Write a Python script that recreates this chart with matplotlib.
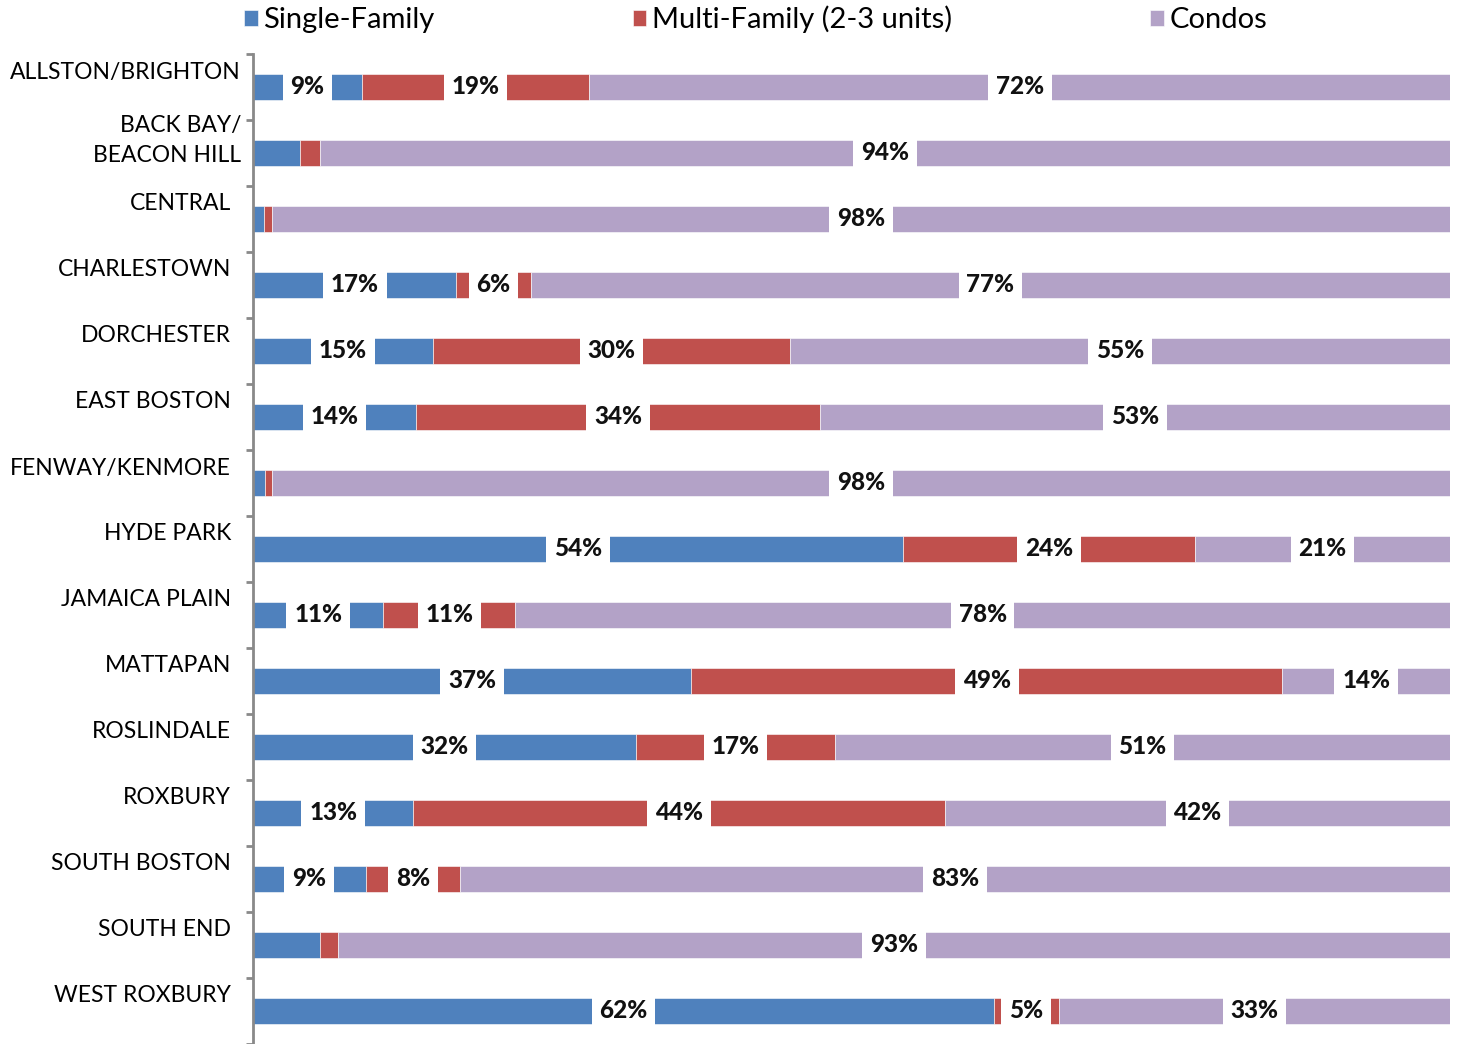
import matplotlib.pyplot as plt
import numpy as np

plt.rcParams['font.family'] = ['Lato', 'DejaVu Sans']

# neighborhoods, top to bottom
categories = [
    "ALLSTON/BRIGHTON", "BACK BAY/\nBEACON HILL", "CENTRAL", "CHARLESTOWN",
    "DORCHESTER", "EAST BOSTON", "FENWAY/KENMORE", "HYDE PARK",
    "JAMAICA PLAIN", "MATTAPAN", "ROSLINDALE", "ROXBURY",
    "SOUTH BOSTON", "SOUTH END", "WEST ROXBURY",
]

# share of sales (%)
single_family = [9.1, 3.9, 0.9, 17.0, 15.0, 13.6, 1.0, 54.3, 10.9, 36.6, 32.0, 13.4, 9.4, 5.6, 61.9]
multi_family = [19.0, 1.7, 0.7, 6.2, 29.9, 33.8, 0.6, 24.4, 11.0, 49.4, 16.6, 44.4, 7.9, 1.5, 5.4]
condos = [71.9, 94.4, 98.4, 76.8, 55.1, 52.6, 98.4, 21.3, 78.1, 14.0, 51.4, 42.2, 82.7, 92.9, 32.7]

# data labels as printed on the chart (small segments have none)
sf_labels = ['9%', '', '', '17%', '15%', '14%', '', '54%', '11%', '37%', '32%', '13%', '9%', '', '62%']
mf_labels = ['19%', '', '', '6%', '30%', '34%', '', '24%', '11%', '49%', '17%', '44%', '8%', '', '5%']
condo_labels = ['72%', '94%', '98%', '77%', '55%', '53%', '98%', '21%', '78%', '14%', '51%', '42%', '83%', '93%', '33%']

series_names = ['Single-Family', 'Multi-Family (2-3 units)', 'Condos']
colors = ['#4F81BD', '#C0504D', '#B3A2C7']

W, H = 1460, 1044
fig = plt.figure(figsize=(W / 100, H / 100), dpi=100)
ax = fig.add_axes([253 / W, 0, 1197 / W, 990 / H])

y = np.arange(len(categories))
sf = np.array(single_family)
mf = np.array(multi_family)
co = np.array(condos)

bar_h = 0.39
b1 = ax.barh(y, sf, height=bar_h, color=colors[0], label=series_names[0],
             edgecolor='white', linewidth=0.4)
b2 = ax.barh(y, mf, left=sf, height=bar_h, color=colors[1], label=series_names[1],
             edgecolor='white', linewidth=0.4)
b3 = ax.barh(y, co, left=sf + mf, height=bar_h, color=colors[2], label=series_names[2],
             edgecolor='white', linewidth=0.4)

box = dict(boxstyle='square,pad=0.32', facecolor='white', edgecolor='none')
for cont, labs in [(b1, sf_labels), (b2, mf_labels), (b3, condo_labels)]:
    ax.bar_label(cont, labels=labs, label_type='center', fontsize=17.5,
                 fontweight='black', color='#111111', bbox=box)

ax.set_xlim(0, 100)
ax.set_ylim(len(categories) - 0.5, -0.5)
ax.xaxis.set_visible(False)
for s in ['top', 'right', 'bottom']:
    ax.spines[s].set_visible(False)
ax.spines['left'].set_color('#898989')
ax.spines['left'].set_linewidth(2)
ax.set_yticks(np.arange(len(categories) + 1) - 0.5)
ax.set_yticklabels([])
ax.tick_params(axis='y', direction='out', length=5, width=2, color='#898989')

# category names sit a bit above the bar centre, like the excel original
trans = ax.get_yaxis_transform()
for i, name in enumerate(categories):
    x = -12 / 1197 if i < 2 else -22 / 1197
    lines = name.split('\n')
    if len(lines) == 1:
        offs = [-8.5 / 66]
    else:
        offs = [-21 / 66, 9 / 66]
    for line, off in zip(lines, offs):
        ax.text(x, i + off, line, transform=trans, ha='right', va='baseline',
                fontsize=16.5, color='black')

fig.legend(handles=[b1, b2, b3], loc='upper left',
           bbox_to_anchor=(243 / W, 1 - 4 / H), ncol=3, frameon=False,
           fontsize=21, handlelength=0.45, handleheight=0.45,
           handletextpad=0.2, columnspacing=6.8, borderpad=0.05,
           borderaxespad=0)

fig.savefig('out.png', dpi=100)
